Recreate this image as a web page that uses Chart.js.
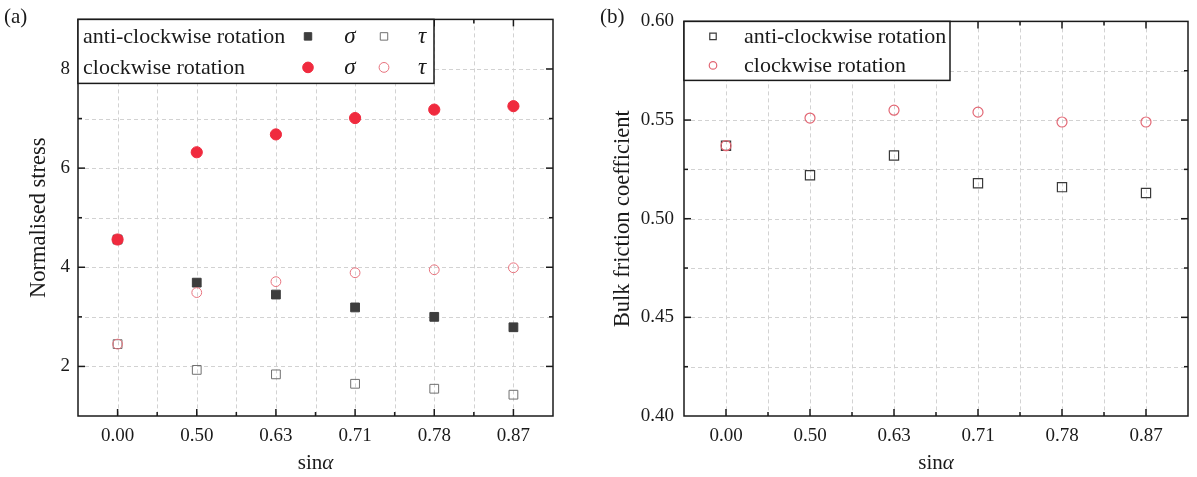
<!DOCTYPE html>
<html><head><meta charset="utf-8">
<script src="https://cdn.jsdelivr.net/npm/chart.js@4/dist/chart.umd.min.js"></script>
<style>
html,body{margin:0;padding:0;background:#fff;}
#wrap{position:relative;width:1197px;height:477px;overflow:hidden;background:#fff;}
canvas{position:absolute;top:0;}
</style></head><body>
<div id="wrap">
<canvas id="ca" width="600" height="477" style="left:0"></canvas>
<canvas id="cb" width="597" height="477" style="left:600px"></canvas>
</div>
<script>
// ---------- data ----------
const categories = ['0.00', '0.50', '0.63', '0.71', '0.78', '0.87'];
const sigmaAnti = [4.56, 3.69, 3.45, 3.19, 3.00, 2.79];
const tauAnti   = [2.45, 1.93, 1.84, 1.65, 1.55, 1.43];
const sigmaCw   = [4.56, 6.32, 6.68, 7.01, 7.18, 7.25];
const tauCw     = [2.45, 3.49, 3.71, 3.89, 3.95, 3.99];
const frictionAnti = [0.537, 0.522, 0.532, 0.518, 0.516, 0.513];
const frictionCw   = [0.537, 0.551, 0.555, 0.554, 0.549, 0.549];
const stressTicks = [2, 4, 6, 8];
const frictionTicks = ['0.40', '0.45', '0.50', '0.55', '0.60'];
const seriesNames = ['anti-clockwise rotation', 'clockwise rotation'];
const symbolNames = ['σ', 'τ'];
const xTitle = ['sin', 'α'];
const yTitleA = 'Normalised stress';
const yTitleB = 'Bulk friction coefficient';
const panelLabels = ['(a)', '(b)'];

const SERIF = '"Liberation Serif", "Times New Roman", serif';
const toPts = arr => arr.map((v, i) => ({x: i, y: v}));

// ---------- shared drawing helpers ----------
function line(ctx, x1, y1, x2, y2) { ctx.beginPath(); ctx.moveTo(x1, y1); ctx.lineTo(x2, y2); ctx.stroke(); }

function marker(ctx, ds, x, y, scale) {
  ctx.save();
  ctx.fillStyle = ds.backgroundColor;
  ctx.strokeStyle = ds.borderColor;
  ctx.lineWidth = ds.borderWidth;
  Chart.helpers.drawPoint(ctx, {pointStyle: ds.pointStyle, rotation: 0, radius: ds.pointRadius * (scale || 1), borderWidth: ds.borderWidth}, x, y);
  ctx.restore();
}

function makeFrame(cfg) {
  return {
    id: 'frame',
    beforeDatasetsDraw(chart) {
      const {ctx, chartArea: a, scales: {x, y}} = chart;
      ctx.save();
      ctx.strokeStyle = '#d2d2d2'; ctx.lineWidth = 1; ctx.setLineDash([4, 3]);
      x.ticks.forEach(t => {
        if (t.value <= x.min || t.value >= x.max) return;
        const px = Math.round(x.getPixelForValue(t.value)) + 0.5;
        line(ctx, px, a.top, px, a.bottom);
      });
      y.ticks.forEach(t => {
        if (t.value <= y.min + 1e-9 || t.value >= y.max - 1e-9) return;
        const py = Math.round(y.getPixelForValue(t.value)) + 0.5;
        line(ctx, a.left, py, a.right, py);
      });
      ctx.restore();
    },
    afterDraw(chart) {
      const {ctx, chartArea: a, scales: {x, y}} = chart;
      ctx.save();
      ctx.strokeStyle = '#1a1a1a'; ctx.lineWidth = 1.5; ctx.setLineDash([]);
      // ticks (inward)
      x.ticks.forEach(t => {
        if (t.value <= x.min || t.value >= x.max) return;
        const px = x.getPixelForValue(t.value);
        const len = Number.isInteger(t.value) ? 7 : 4;
        line(ctx, px, a.bottom, px, a.bottom - len);
        line(ctx, px, a.top, px, a.top + len);
      });
      y.ticks.forEach(t => {
        if (t.value <= y.min + 1e-9 || t.value >= y.max - 1e-9) return;
        const py = y.getPixelForValue(t.value);
        const len = t.label !== '' ? 7 : 4;
        line(ctx, a.left, py, a.left + len, py);
        line(ctx, a.right, py, a.right - len, py);
      });
      ctx.strokeRect(a.left, a.top, a.right - a.left, a.bottom - a.top);
      // x title: sin + italic alpha
      ctx.fillStyle = '#1a1a1a';
      ctx.textBaseline = 'middle';
      ctx.font = '21px ' + SERIF;
      const w1 = ctx.measureText(xTitle[0]).width;
      ctx.font = 'italic 21px ' + SERIF;
      const w2 = ctx.measureText(xTitle[1]).width;
      const cx = (a.left + a.right) / 2 - (w1 + w2) / 2;
      ctx.textAlign = 'left';
      ctx.font = '21px ' + SERIF;
      ctx.fillText(xTitle[0], cx, 463);
      ctx.font = 'italic 21px ' + SERIF;
      ctx.fillText(xTitle[1], cx + w1, 463);
      // panel label
      ctx.font = '21px ' + SERIF;
      ctx.fillText(cfg.panel, cfg.panelX, 17);
      // legend
      const L = cfg.legend;
      ctx.fillStyle = '#fff';
      ctx.fillRect(a.left, a.top, L.w, L.h);
      ctx.strokeRect(a.left, a.top, L.w, L.h);
      L.rows.forEach((row, i) => {
        const ry = a.top + L.rowY[i];
        ctx.fillStyle = '#1a1a1a';
        ctx.font = '22px ' + SERIF;
        ctx.textAlign = 'left';
        ctx.fillText(row.text, a.left + row.textX, ry);
        row.items.forEach(it => {
          if (it.ds !== undefined) marker(ctx, chart.data.datasets[it.ds], a.left + it.x, ry - 1, it.scale);
          if (it.sym) {
            ctx.fillStyle = '#1a1a1a';
            ctx.font = 'italic 23px ' + SERIF;
            ctx.textAlign = 'center';
            ctx.fillText(it.sym, a.left + it.x, ry);
          }
        });
      });
      ctx.restore();
    }
  };
}

function baseOptions(o) {
  return {
    responsive: false,
    animation: false,
    events: [],
    layout: {padding: {left: 0, right: o.padRight, top: 18, bottom: 0}},
    plugins: {legend: {display: false}, tooltip: {enabled: false}},
    scales: {
      x: {
        type: 'linear', min: -0.5, max: 5.5,
        afterFit: s => { s.height = 61; },
        grid: {display: false, drawTicks: false},
        border: {display: false},
        ticks: {
          stepSize: 0.5, autoSkip: false, maxRotation: 0, padding: 9,
          color: '#1a1a1a', font: {family: SERIF, size: 19},
          callback: v => Number.isInteger(v) ? categories[v] : ''
        }
      },
      y: {
        type: 'linear', min: o.yMin, max: o.yMax,
        afterFit: s => { s.width = o.yWidth; },
        grid: {display: false, drawTicks: false},
        border: {display: false},
        ticks: {
          stepSize: o.yStep, autoSkip: false, padding: o.yPad,
          color: '#1a1a1a', font: {family: SERIF, size: 19},
          callback: o.yCallback
        },
        title: {display: true, text: o.yTitle, color: '#1a1a1a', font: {family: SERIF, size: 22.5}, padding: {top: o.titlePad, bottom: 0}}
      }
    }
  };
}

// ---------- panel (a) ----------
new Chart(document.getElementById('ca'), {
  type: 'scatter',
  data: {
    datasets: [
      {label: seriesNames[0] + ' σ', data: toPts(sigmaAnti), pointStyle: 'rect', pointRadius: 6.2, borderWidth: 1, backgroundColor: '#3d3d3d', borderColor: '#3d3d3d', order: 2},
      {label: seriesNames[0] + ' τ', data: toPts(tauAnti), pointStyle: 'rect', pointRadius: 6.2, borderWidth: 1, backgroundColor: 'rgba(0,0,0,0)', borderColor: '#707070', order: 2},
      {label: seriesNames[1] + ' σ', data: toPts(sigmaCw), pointStyle: 'circle', pointRadius: 5.6, borderWidth: 1, backgroundColor: '#f02a3e', borderColor: '#f02a3e', order: 1},
      {label: seriesNames[1] + ' τ', data: toPts(tauCw), pointStyle: 'circle', pointRadius: 4.9, borderWidth: 1, backgroundColor: 'rgba(0,0,0,0)', borderColor: '#e8737e', order: 1}
    ]
  },
  options: baseOptions({
    padRight: 47, yMin: 1, yMax: 9, yStep: 1, yWidth: 78, yPad: 8, titlePad: 26, yTitle: yTitleA,
    yCallback: v => stressTicks.includes(v) ? String(v) : ''
  }),
  plugins: [makeFrame({
    panel: panelLabels[0], panelX: 4,
    legend: {
      w: 356, h: 64, rowY: [18, 49],
      rows: [
        {text: seriesNames[0], textX: 5, items: [{ds: 0, x: 230, scale: 0.85}, {sym: symbolNames[0], x: 272}, {ds: 1, x: 306, scale: 0.85}, {sym: symbolNames[1], x: 344}]},
        {text: seriesNames[1], textX: 5, items: [{ds: 2, x: 230, scale: 0.95}, {sym: symbolNames[0], x: 272}, {ds: 3, x: 306}, {sym: symbolNames[1], x: 344}]}
      ]
    }
  })]
});

// ---------- panel (b) ----------
new Chart(document.getElementById('cb'), {
  type: 'scatter',
  data: {
    datasets: [
      {label: seriesNames[0], data: toPts(frictionAnti), pointStyle: 'rect', pointRadius: 6.5, borderWidth: 1.2, backgroundColor: 'rgba(0,0,0,0)', borderColor: '#3a3a3a', order: 2},
      {label: seriesNames[1], data: toPts(frictionCw), pointStyle: 'circle', pointRadius: 5, borderWidth: 1.2, backgroundColor: 'rgba(0,0,0,0)', borderColor: '#e26774', order: 1}
    ]
  },
  options: baseOptions({
    padRight: 4, yMin: 0.4, yMax: 0.6, yStep: 0.025, yWidth: 84, yPad: 10, titlePad: 10, yTitle: yTitleB,
    yCallback: v => { const s = v.toFixed(2); return (Math.round(v * 1000) % 50 === 0 && frictionTicks.includes(s)) ? s : ''; }
  }),
  plugins: [makeFrame({
    panel: panelLabels[1], panelX: 0,
    legend: {
      w: 266, h: 59, rowY: [16, 45],
      rows: [
        {text: seriesNames[0], textX: 60, items: [{ds: 0, x: 29, scale: 0.7}]},
        {text: seriesNames[1], textX: 60, items: [{ds: 1, x: 29, scale: 0.75}]}
      ]
    }
  })]
});
</script>
</body></html>
